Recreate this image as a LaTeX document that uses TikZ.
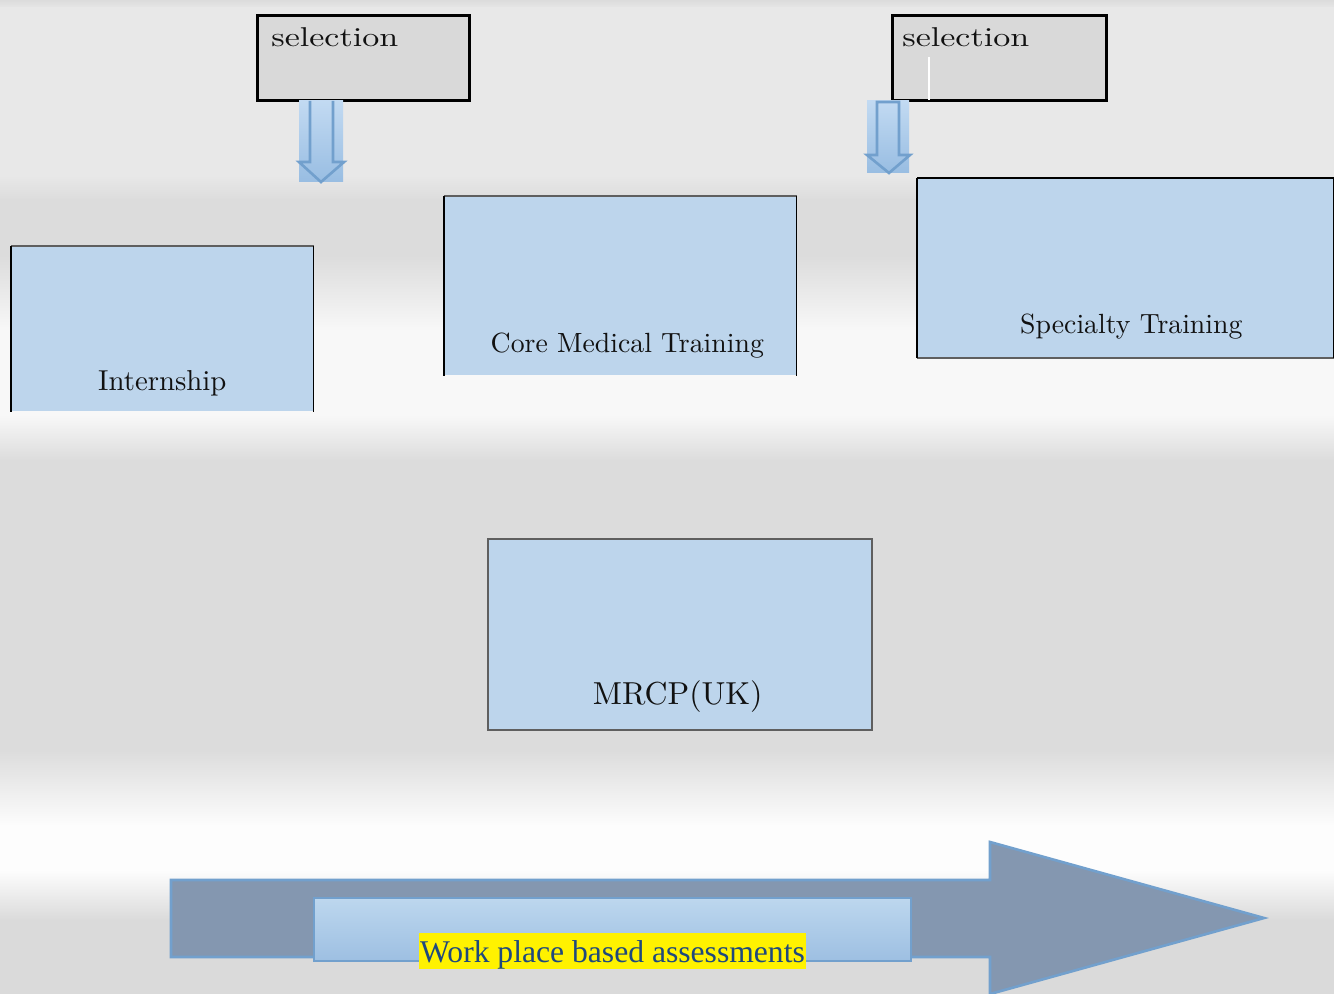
\documentclass[tikz,border=0pt]{standalone}
\usepackage{fontspec}
\setmainfont{lmroman10-regular.otf}
\newfontfamily\timesfont{Liberation Serif}
\usetikzlibrary{positioning, calc}
\usepackage{xcolor}

\definecolor{bgdark}{HTML}{DCDCDC}
\definecolor{bgmid}{HTML}{E8E8E8}
\definecolor{bglight}{HTML}{F8F8F8}
\definecolor{bgwhite}{HTML}{FDFDFD}
\definecolor{bgbottom}{HTML}{DADADA}
\definecolor{selgray}{HTML}{D9D9D9}
\definecolor{stageblue}{HTML}{BDD5EC}
\definecolor{edgegray}{HTML}{5F5F5F}
\definecolor{textblack}{HTML}{111111}
\definecolor{arrowline}{HTML}{72A0CD}
\definecolor{arrowtop}{HTML}{C2DAF2}
\definecolor{arrowbot}{HTML}{98BDE2}
\definecolor{arrowslate}{HTML}{8497B0}
\definecolor{bartop}{HTML}{BDD7EE}
\definecolor{barbot}{HTML}{9DBFE2}
\definecolor{wpbblue}{HTML}{1F497D}

\begin{document}
\begin{tikzpicture}[x=0.02cm, y=-0.02cm,
    selbox/.style={draw=black, line width=1.6pt, fill=selgray, inner sep=0pt,
      minimum width=4.24cm, minimum height=1.7cm, anchor=north west},
    seltext/.style={anchor=base west, inner sep=0pt, text=textblack,
      font=\fontsize{15.5}{18}\selectfont},
    stage/.style={fill=stageblue, inner sep=0pt, anchor=north west},
    stagetext/.style={anchor=base, inner sep=0pt, text=textblack,
      font=\fontsize{15.5}{18}\selectfont},
    topedge/.style={draw=edgegray, line width=0.9pt},
    sideedge/.style={draw=black, line width=0.7pt},
    downarrow/.style={draw=arrowline, line width=1.5pt, line join=miter},
    arrowbg/.style={top color=arrowtop, bottom color=arrowbot},
    bigarrow/.style={fill=arrowslate, draw=arrowline, line width=1.5pt, line join=miter},
    wpbbar/.style={top color=bartop, bottom color=barbot, draw=arrowline,
      line width=1.2pt, inner sep=0pt, anchor=north west},
    wpbtext/.style={anchor=base, fill=yellow, text=wpbblue, inner sep=0pt,
      inner xsep=0.6pt, text height=16.4pt, text depth=4pt,
      font=\timesfont\fontsize{18}{20}\selectfont}]

  % background bands
  \useasboundingbox (0,0) rectangle (1334,993);
  \foreach \ya/\yb/\ca/\cb in {0/8/bgdark/bgmid, 8/175/bgmid/bgmid,
      175/200/bgmid/bgdark, 200/255/bgdark/bgdark, 255/330/bgdark/bglight,
      330/415/bglight/bglight, 415/460/bglight/bgdark, 460/750/bgdark/bgdark,
      750/825/bgdark/bgwhite, 825/870/bgwhite/bgwhite, 870/920/bgwhite/bgbottom,
      920/993/bgbottom/bgbottom}
    \shade[top color=\ca, bottom color=\cb] (0,\ya) rectangle (1334,\yb+1);

  % selection steps
  \node[selbox] (sel1) at (256,14) {};
  \node[seltext] (sel1text) at ($(sel1.north west)+(15,33)$) {\scalebox{1.25}[1]{selection}};
  \node[selbox, minimum width=4.28cm] (sel2) at (891,14) {};
  \node[seltext] (sel2text) at ($(sel2.north west)+(11,33)$) {\scalebox{1.25}[1]{selection}};
  \draw[white, line width=0.6pt] ($(sel2.north west)+(38,43)$) -- ($(sel2.south west)+(38,-2)$);

  \shade[arrowbg] (299,101) rectangle (343,182);
  \draw[downarrow] (310,101) -- (310,162) -- (299,162) -- (321,182) -- (344,162)
    -- (333,162) -- (333,101);
  \shade[arrowbg] (867,101) rectangle (909,173);
  \draw[downarrow] (877,102) -- (899,102) -- (899,155) -- (910,155) -- (889,173)
    -- (867,155) -- (877,155) -- cycle;

  % training stages
  \node[stage, minimum width=6.04cm, minimum height=3.3cm] (intern) at (11,246) {};
  \draw[topedge] (intern.north west) -- (intern.north east);
  \draw[sideedge] (intern.south west) -- (intern.north west);
  \draw[sideedge] (intern.south east) -- (intern.north east);
  \node[stagetext, font=\fontsize{16.4}{18}\selectfont] (interntext)
    at ($(intern.south)+(0,-21)$) {Internship};

  \node[stage, minimum width=7.04cm, minimum height=3.58cm] (cmt) at (444,196) {};
  \draw[topedge] (cmt.north west) -- (cmt.north east);
  \draw[sideedge] (cmt.south west) -- (cmt.north west);
  \draw[sideedge] (cmt.south east) -- (cmt.north east);
  \node[stagetext, font=\fontsize{15.8}{18}\selectfont] (cmttext)
    at ($(cmt.south)+(7,-23)$) {Core Medical Training};

  \node[stage, minimum width=8.32cm, minimum height=3.58cm] (spec) at (917,178) {};
  \draw[sideedge] (spec.north west) -- (spec.north east);
  \draw[topedge, line width=1.2pt] (spec.south west) -- (spec.south east);
  \draw[sideedge] (spec.south west) -- (spec.north west);
  \draw[sideedge] (spec.south east) -- (spec.north east);
  \node[stagetext, font=\fontsize{15.8}{18}\selectfont] (spectext)
    at ($(spec.south)+(6,-24)$) {Specialty Training};

  \node[stage, draw=edgegray, line width=0.9pt, minimum width=7.68cm,
    minimum height=3.82cm] (mrcp) at (487,538) {};
  \node[stagetext, font=\fontsize{18.1}{22}\selectfont] (mrcptext)
    at ($(mrcp.south)+(-2,-26)$) {MRCP(UK)};

  % assessment arrow
  \draw[bigarrow] (171,880) -- (990,880) -- (990,842) -- (1264,918) -- (990,994)
    -- (990,957) -- (171,957) -- cycle;
  \node[wpbbar, minimum width=11.94cm, minimum height=1.26cm] (bar) at (313,897) {};
  \node[wpbtext] (wpbtext) at (bar.south) {Work place based assessments};

\end{tikzpicture}
\end{document}
